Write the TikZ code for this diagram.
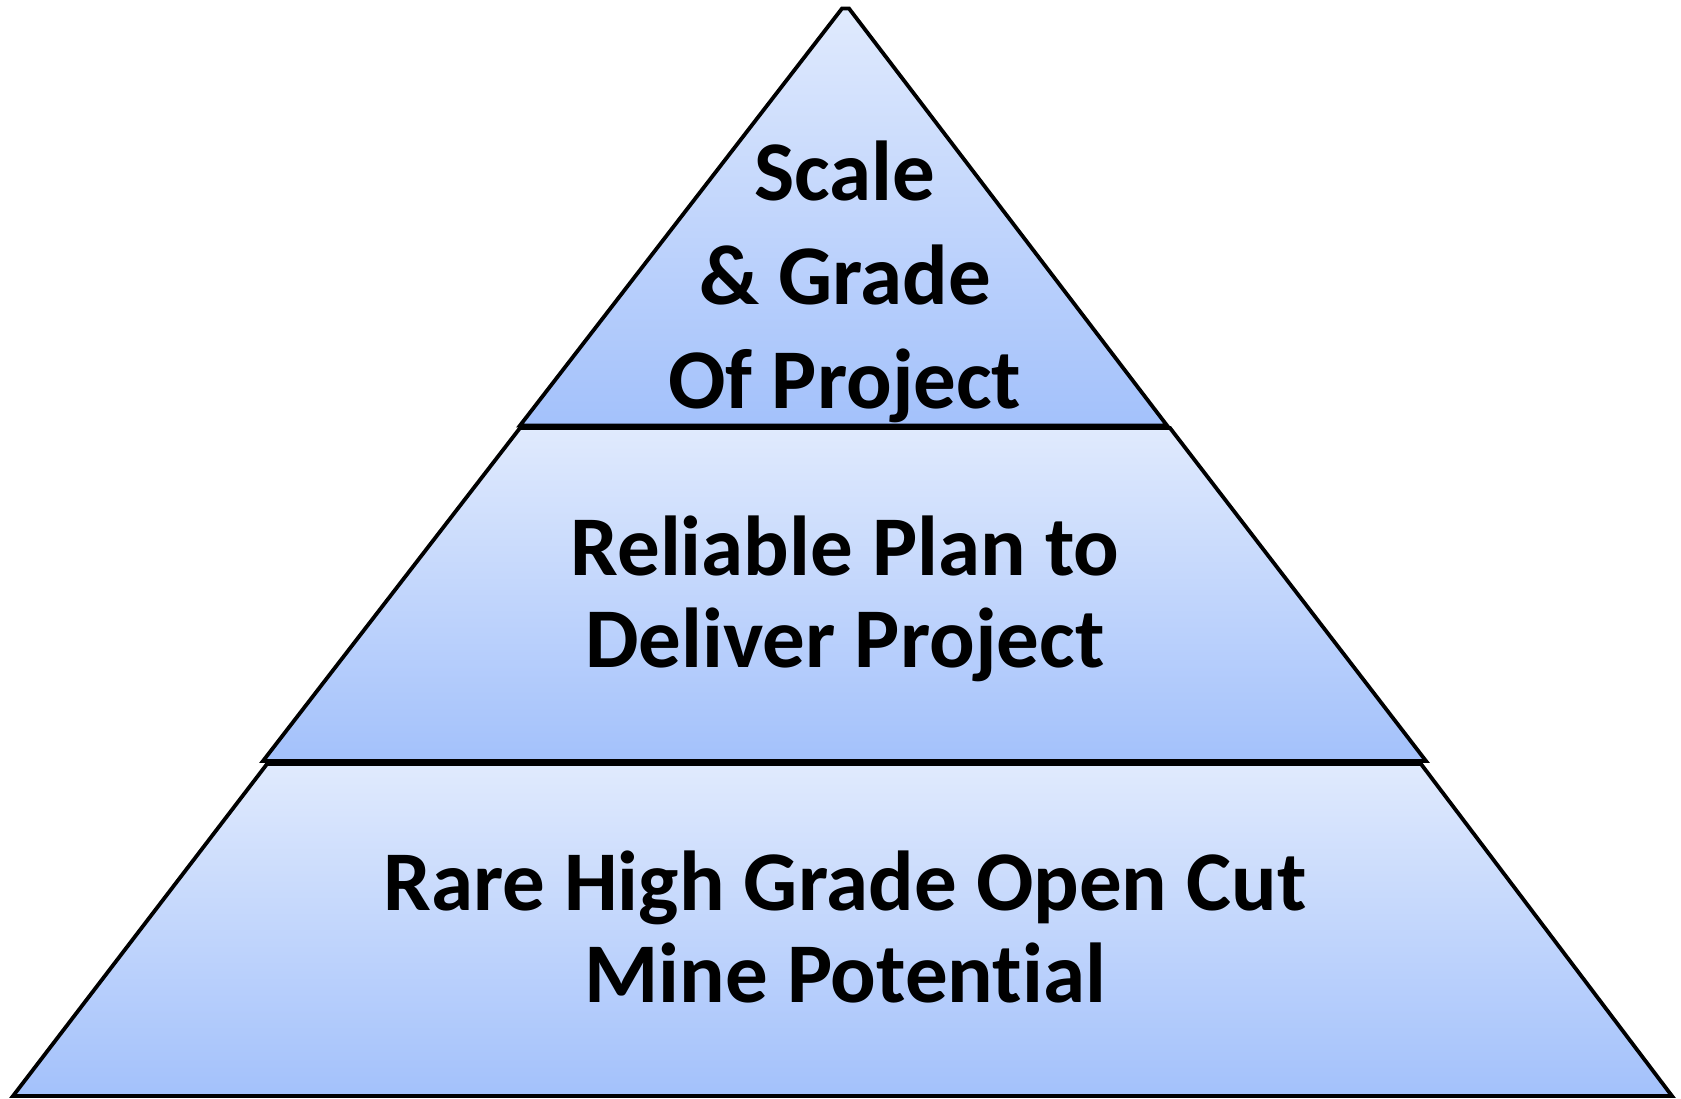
\documentclass[tikz,border=0pt]{standalone}
\usepackage{fontspec}
\setmainfont[Ligatures=NoCommon]{Carlito}
\definecolor{tierlight}{RGB}{224,234,253}
\definecolor{tierdark}{RGB}{163,193,251}
\begin{document}
\begin{tikzpicture}[scale=1.000000,x=0.5pt,y=0.5pt,
  tier/.style={draw=black,line width=1.9pt,line join=miter,top color=tierlight,bottom color=tierdark},
  tiertext/.style={align=center,font=\fontsize{42.5}{46}\selectfont\bfseries}]
\useasboundingbox (0.000000, 0.000000) rectangle (1681.000000, 1098.000000);
% Drawing tiers
% Tier 1: top
\path[tier] (520.000000, 672.500000) -- (842.000000, 1089.500000) -- (849.000000, 1089.500000) -- (1167.000000, 672.500000) -- cycle;
% Tier 2: middle
\path[tier] (520.000000, 670.000000) -- (1170.000000, 670.000000) -- (1426.000000, 337.000000) -- (263.000000, 337.000000) -- cycle;
% Tier 3: bottom
\path[tier] (267.000000, 334.000000) -- (1421.000000, 334.000000) -- (1672.000000, 2.000000) -- (13.000000, 2.000000) -- cycle;
% Done with tiers; drawing labels
\node[tiertext,font=\fontsize{42.5}{52}\selectfont\bfseries] (scalegrade) at (845.000000, 816.000000) {Scale\\\& Grade\\Of Project};
\node[tiertext] (reliableplan) at (845.000000, 499.500000) {Reliable Plan to\\Deliver Project};
\node[tiertext] (minepotential) at (845.000000, 171.500000) {Rare High Grade Open Cut\\Mine Potential};
% Done with labels
\end{tikzpicture}
\end{document}
